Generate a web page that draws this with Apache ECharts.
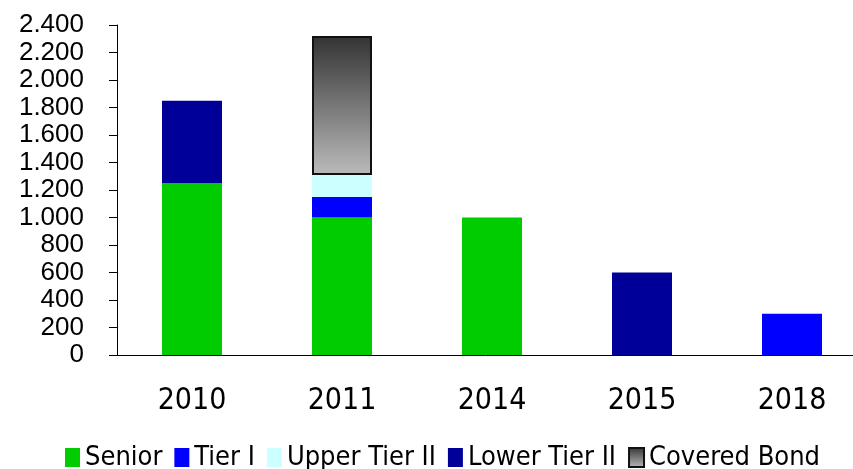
<!DOCTYPE html>
<html>
<head>
<meta charset="utf-8">
<script src="https://cdn.jsdelivr.net/npm/echarts@6/dist/echarts.min.js"></script>
<style>
  html, body { margin: 0; padding: 0; background: #fff; }
  #chart { width: 853px; height: 469px; }
</style>
</head>
<body>
<div id="chart"></div>
<script>
// data
const categories = ['2010', '2011', '2014', '2015', '2018']
const senior = [1250, 1000, 1000, null, null]
const tierI = [null, 150, null, null, 300]
const upperTierII = [null, 160, null, null, null]
const lowerTierII = [600, null, null, 600, null]
const coveredBond = [null, 1010, null, null, null]

const chart = echarts.init(document.getElementById('chart'))

function fmt(v) {
    return String(v).replace(/\B(?=(\d{3})+(?!\d))/g, '.')
}

function bar(name, data, color, extra) {
    return Object.assign({
        name: name,
        type: 'bar',
        stack: 'total',
        barWidth: 60,
        data: data,
        itemStyle: { color: color }
    }, extra || {})
}

const cbGradient = new echarts.graphic.LinearGradient(0, 0, 0, 1, [
    { offset: 0, color: '#333333' },
    { offset: 1, color: '#bbbbbb' }
])

const option = {
    animation: false,
    grid: { left: 117, width: 750, top: 25, height: 330, outerBoundsMode: 'none', containLabel: false },
    legend: {
        left: 60,
        top: 439,
        itemWidth: 15,
        itemHeight: 19,
        itemGap: 12,
        icon: 'rect',
        textStyle: { fontFamily: 'DejaVu Sans Condensed', fontSize: 27, color: '#000' }
    },
    xAxis: {
        type: 'category',
        data: categories,
        axisLine: { lineStyle: { color: '#000', width: 1 } },
        axisTick: { length: 14, lineStyle: { color: '#000' } },
        axisLabel: { margin: 31, fontFamily: 'DejaVu Sans Condensed', fontSize: 30, color: '#000' }
    },
    yAxis: {
        type: 'value',
        min: 0,
        max: 2400,
        interval: 200,
        splitLine: { show: false },
        axisLine: { show: true, lineStyle: { color: '#000', width: 1 } },
        axisTick: { show: true, length: 8, lineStyle: { color: '#000' } },
        axisLabel: { margin: 33, fontFamily: 'Liberation Sans', fontSize: 26, color: '#000', formatter: fmt }
    },
    series: [
        bar('Senior', senior, '#00cc00'),
        bar('Tier I', tierI, '#0000ff'),
        bar('Upper Tier II', upperTierII, '#ccffff'),
        bar('Lower Tier II', lowerTierII, '#000099'),
        bar('Covered Bond', coveredBond, cbGradient, { itemStyle: {
            color: cbGradient,
            borderColor: '#111',
            borderWidth: 2
        } })
    ]
}

chart.setOption(option)
</script>
</body>
</html>
